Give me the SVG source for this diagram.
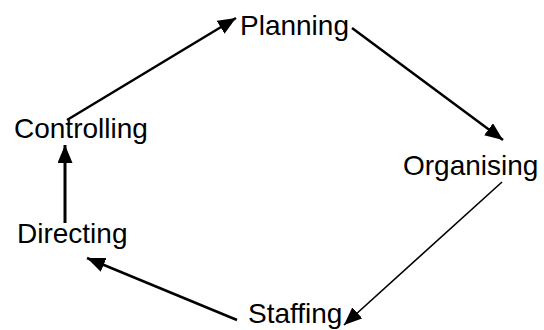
<svg xmlns="http://www.w3.org/2000/svg" width="544" height="330" viewBox="0 0 544 330">
<style>
text{font-family:"Liberation Sans",Arial,sans-serif;font-size:28px;fill:#000}
.c{stroke:#000;stroke-width:2.5;fill:none}
</style>
<defs>
<marker id="ah" markerUnits="userSpaceOnUse" markerWidth="19" markerHeight="15" refX="18" refY="7.5" orient="auto" viewBox="0 0 19 15">
<path d="M0,0 L18,7.5 L0,15 z" fill="#000"/>
</marker>
</defs>
<rect width="544" height="330" fill="#fff"/>
<g id="connectors">
<line class="c" x1="67" y1="120" x2="236" y2="18" marker-end="url(#ah)"/>
<line class="c" x1="352" y1="28" x2="503" y2="140" marker-end="url(#ah)"/>
<line class="c" x1="502" y1="182" x2="344" y2="325" style="stroke-width:1.6" marker-end="url(#ah)"/>
<line class="c" x1="237" y1="320" x2="87" y2="258" marker-end="url(#ah)"/>
<line class="c" x1="65" y1="223" x2="65" y2="145" style="stroke-width:3" marker-end="url(#ah)"/>
</g>
<g id="planning"><text x="240" y="35">Planning</text></g>
<g id="organising"><text x="403" y="175">Organising</text></g>
<g id="staffing"><text x="248" y="323">Staffing</text></g>
<g id="directing"><text x="17" y="243">Directing</text></g>
<g id="controlling"><text x="14" y="138">Controlling</text></g>
</svg>
